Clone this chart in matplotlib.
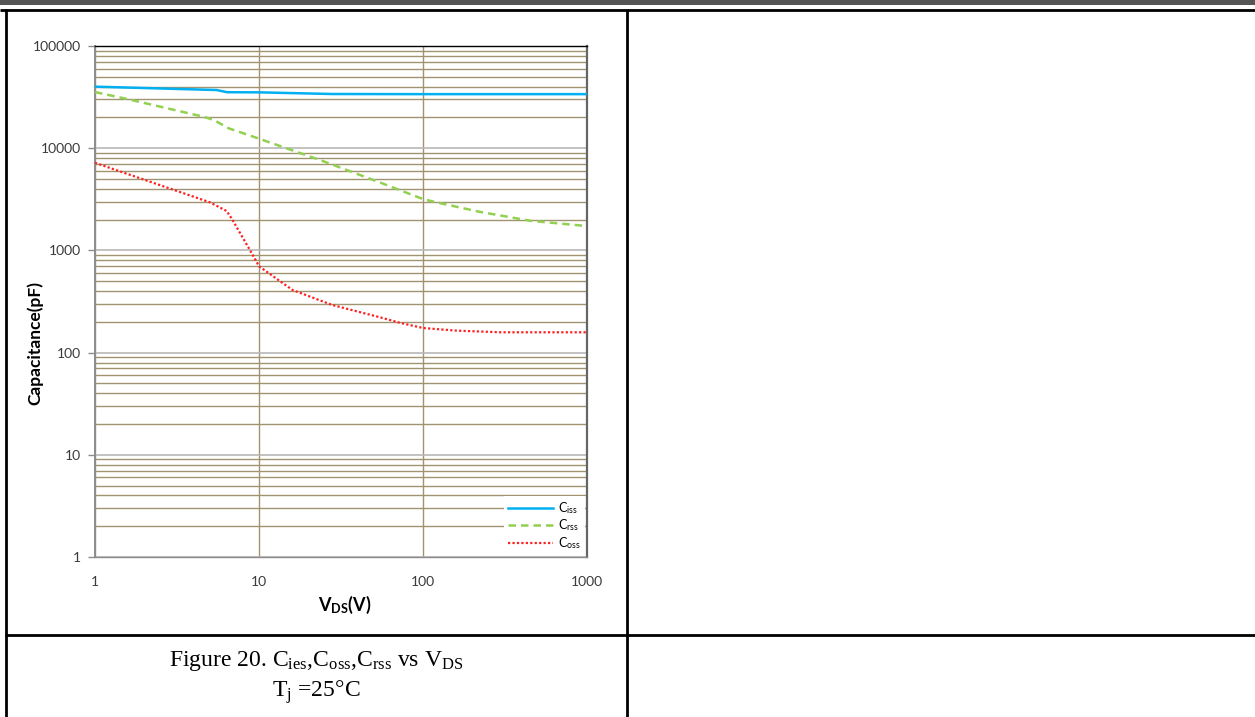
import numpy as np
import matplotlib
matplotlib.use("Agg")
import matplotlib.pyplot as plt
from matplotlib.lines import Line2D
from matplotlib.patches import Rectangle
from matplotlib.ticker import FixedLocator, FuncFormatter, NullLocator

# values (V_DS in V, capacitance in pF)
ciss_v = [1, 5.5, 6.4, 10, 28, 100, 1000]
ciss_c = [40000, 37100, 35300, 35200, 33900, 33800, 33800]

crss_v = [1, 1.6, 4.6, 5.3, 6.5, 10, 25, 55, 100, 120, 220, 450, 1000]
crss_c = [35400, 30100, 20300, 18900, 15700, 12400, 7400, 4600, 3180, 2960, 2390, 1950, 1730]

coss_v = [1, 5.0, 6.35, 6.8, 8.8, 10, 16, 28, 55, 72, 100, 160, 300, 1000]
coss_c = [7200, 2960, 2430, 2060, 1010, 700, 410, 292, 221, 196, 174, 164, 158, 158]

series_labels = [r"C$_{\mathsf{iss}}$", r"C$_{\mathsf{rss}}$", r"C$_{\mathsf{oss}}$"]
x_ticks = [1, 10, 100, 1000]
y_ticks = [1, 10, 100, 1000, 10000, 100000]

caption_1 = r"Figure 20. C$_{\mathrm{ies}}$,C$_{\mathrm{oss}}$,C$_{\mathrm{rss}}$ vs V$_{\mathrm{DS}}$"
caption_2 = r"T$_{\mathrm{j}}$ =25°C"

plt.rcParams.update({
    "font.family": ["Lato", "DejaVu Sans"],
    "mathtext.fontset": "custom",
    "mathtext.rm": "Liberation Serif",
    "mathtext.sf": "Lato",
    "mathtext.bf": "Lato:bold",
    "mathtext.it": "Liberation Serif:italic",
})

W, H = 1255, 717
fig = plt.figure(figsize=(W / 100, H / 100), dpi=100)


def px(x, y):
    return x / W, 1 - y / H


def hline(y, x0, x1, lw, color="black"):
    (a, b), (c, _) = px(x0, y), px(x1, y)
    fig.add_artist(Line2D([a, c], [b, b], lw=lw, color=color, solid_capstyle="butt"))


def vline(x, y0, y1, lw, color="black"):
    (a, b), (_, d) = px(x, y0), px(x, y1)
    fig.add_artist(Line2D([a, a], [b, d], lw=lw, color=color, solid_capstyle="butt"))


# table frame around the figure
fig.add_artist(Rectangle(px(0, 4.5), 1, 4.5 / H, color="#555555", lw=0))
hline(10, 0, W, 2.0)
vline(6, 9, H, 2.0)
vline(627, 9, H, 2.0)
hline(635, 5, W, 2.0)

ax = fig.add_axes([95 / W, 1 - 557 / H, 492 / W, 511 / H])
ax.set_xscale("log")
ax.set_yscale("log")
ax.set_xlim(1, 1000)
ax.set_ylim(1, 100000)

ax.plot(ciss_v, ciss_c, color="#00b0f0", lw=1.8, label=series_labels[0], zorder=3)
ax.plot(crss_v, crss_c, color="#92d050", lw=1.8, ls=(0, (3, 2)), label=series_labels[1], zorder=3)
ax.plot(coss_v, coss_c, color="#ff2020", lw=1.6, ls=(0, (1, 1)), label=series_labels[2], zorder=3)

# grid: gray decades, olive minor lines, olive vertical decades
ax.xaxis.set_major_locator(FixedLocator(x_ticks))
ax.xaxis.set_minor_locator(NullLocator())
ax.yaxis.set_major_locator(FixedLocator(y_ticks))
ax.yaxis.set_minor_locator(FixedLocator([m * 10 ** k for k in range(5) for m in range(2, 10)]))
ax.xaxis.set_major_formatter(FuncFormatter(lambda v, _: f"{v:g}"))
ax.yaxis.set_major_formatter(FuncFormatter(lambda v, _: f"{v:g}"))

ax.grid(True, which="major", axis="y", color="#b8b8b8", lw=1.2)
ax.grid(True, which="minor", axis="y", color="#a09470", lw=1.0)
ax.grid(True, which="major", axis="x", color="#a09470", lw=1.0)
ax.set_axisbelow(True)

ax.tick_params(axis="y", which="major", length=5, width=1, color="#8c8c8c",
               labelsize=10, labelcolor="#3a3a3a", pad=5)
ax.tick_params(axis="y", which="minor", length=0)
ax.tick_params(axis="x", which="major", length=0, labelsize=10, labelcolor="#3a3a3a", pad=14)

ax.spines["top"].set_color("black")
ax.spines["top"].set_linewidth(1.0)
ax.spines["right"].set_color("#666666")
ax.spines["right"].set_linewidth(1.6)
ax.spines["left"].set_color("#8c8c8c")
ax.spines["left"].set_linewidth(1.4)
ax.spines["bottom"].set_color("#8c8c8c")
ax.spines["bottom"].set_linewidth(1.0)

ax.set_ylabel("Capacitance(pF)", fontsize=12.5, fontweight="bold", color="black")
ax.yaxis.set_label_coords(-0.122, 0.419)
ax.yaxis.label.set_va("center")
ax.set_xlabel(r"V$_{\mathbf{DS}}$(V)", fontsize=13, fontweight="bold", color="black")
ax.xaxis.set_label_coords(0.508, -0.094)
ax.xaxis.label.set_va("center")

leg = ax.legend(loc="lower right", bbox_to_anchor=(1.0, 0.0), fontsize=9,
                frameon=True, fancybox=False, framealpha=1, facecolor="white",
                edgecolor="none", handlelength=3.6, handletextpad=0.4,
                labelspacing=0.12, borderpad=0.35, borderaxespad=0.15)
leg.set_zorder(5)

cx = 316 / W
fig.text(cx, 1 - 661 / H, caption_1, ha="center", va="center", fontsize=17,
         family="Liberation Serif")
fig.text(cx, 1 - 692 / H, caption_2, ha="center", va="center", fontsize=17,
         family="Liberation Serif")

fig.savefig("out.png", dpi=100)
